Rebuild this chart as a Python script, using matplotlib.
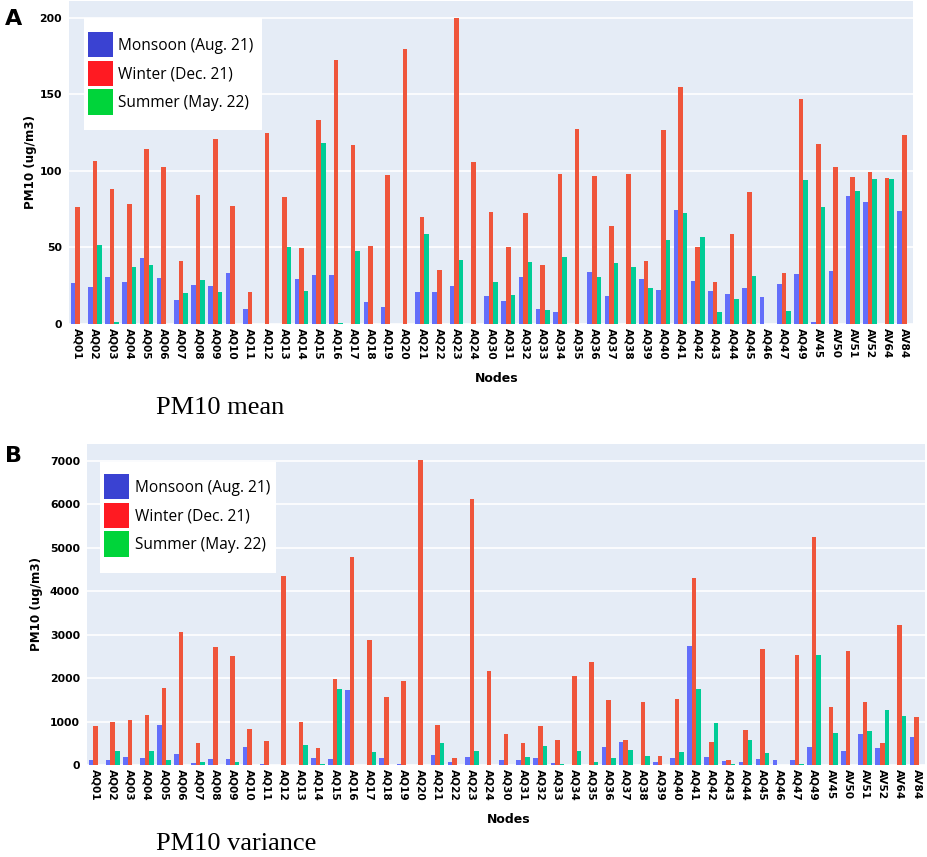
import numpy as np
import matplotlib
matplotlib.use("Agg")
import matplotlib.pyplot as plt
from matplotlib.patches import Patch, Rectangle

nan = np.nan

#node names on the x axis
nodes = ["AQ%02d" % i for i in range(1, 25)] + ["AQ%02d" % i for i in range(30, 48)] + \
        ["AQ49", "AV45", "AV50", "AV51", "AV52", "AV64", "AV84"]

#panel A - PM10 mean
mon_mean = [26.6, 24.4, 30.9, 27.7, 42.9, 29.8, 15.5, 25.5, 24.8, 33.3, 9.6, nan, nan, 29.6, 32.0, 31.8,
            nan, 14.6, 11.1, nan, 20.7, 20.7, 24.6, nan,
            18.3, 15.0, 30.9, 9.6, 8.1, nan, 34.0, 18.3, nan, 29.2, 22.2, 74.3, 28.1, 21.8, 19.4, 23.5,
            17.9, 25.9,
            32.5, 1.0, 34.9, 83.7, 79.7, nan, 73.9]
win_mean = [76.3, 106.3, 88.2, 78.2, 114.0, 102.6, 41.4, 83.9, 120.9, 76.9, 20.9, 124.6, 83.0, 49.9,
            133.3, 172.1, 117.0, 51.0, 97.0, 179.5, 69.7, 35.1, 200.0, 105.9,
            73.2, 50.5, 72.5, 38.3, 98.0, 127.2, 96.7, 63.8, 98.0, 41.4, 126.4, 154.5, 50.3, 27.7, 58.8,
            86.1, nan, 33.1,
            147.0, 117.2, 102.4, 95.9, 99.1, 95.6, 123.7]
sum_mean = [nan, 51.6, 1.0, 37.0, 38.8, nan, 20.3, 28.8, 20.7, nan, nan, nan, 50.3, 21.6, 118.0, 0.4,
            47.5, nan, nan, nan, 58.8, nan, 41.6, nan,
            27.5, 19.2, 40.5, 9.2, 43.4, nan, 30.5, 40.1, 37.3, 23.7, 55.1, 72.5, 56.9, 7.6, 16.6, 31.4,
            nan, 8.5,
            93.9, 76.3, nan, 86.5, 94.8, 94.8, nan]

#panel B - PM10 variance
mon_var = [123, 107, 184, 153, 928, 245, 46, 130, 130, 414, 15, nan, nan, 161, 130, 1733, nan, 161, 30,
           nan, 230, 61, 184, nan,
           107, 115, 153, 54, 8, nan, 414, 537, nan, 69, 153, 2738, 192, 92, 77, 130, 107, 115,
           422, nan, 314, 705, 399, nan, 637]
win_var = [890, 989, 1043, 1143, 1779, 3067, 498, 2722, 2515, 836, 552, 4340, 989, 391, 1986, 4793, 2868,
           1564, 1940, 7017, 928, 161, 6119, 2155,
           705, 506, 905, 583, 2055, 2370, 1495, 583, 1449, 207, 1526, 4310, 521, 107, 813, 2676, nan, 2531,
           5238, 1334, 2630, 1457, 506, 3221, 1112]
sum_var = [nan, 314, nan, 314, 107, nan, 69, nan, 77, nan, nan, nan, 452, 30, 1756, nan, 291, nan, nan,
           nan, 506, nan, 314, nan,
           nan, 184, 445, 30, 314, 61, 169, 353, 199, nan, 291, 1741, 974, 30, 575, 268, nan, 30,
           2538, 728, nan, 790, 1273, 1127, nan]

seasons = ["Monsoon (Aug. 21)", "Winter (Dec. 21)", "Summer (May. 22)"]
bar_colors = ["#636EFA", "#EF553B", "#00CC96"]
legend_colors = ["#3A42D2", "#FF1A22", "#00D43A"]

plt.rcParams["font.family"] = ["DejaVu Sans"]

fig = plt.figure(figsize=(9.27, 8.57), dpi=100)


def draw_panel(rect, series, ymax, ticks, letter, caption, cap_y, letter_y,
               box, leg_pos, ylabpad, nodes_x):
    ax = fig.add_axes(rect)
    ax.set_facecolor("#E5ECF6")
    x = np.arange(len(nodes))
    w = 0.8 / 3
    for k, vals in enumerate(series):
        ax.bar(x + (k - 1) * w, vals, width=w, color=bar_colors[k], zorder=3, linewidth=0)
    ax.set_xlim(-0.5, len(nodes) - 0.5)
    ax.set_ylim(0, ymax)
    ax.set_yticks(ticks)
    ax.set_yticklabels([str(t) for t in ticks], fontsize=7.8, fontweight="bold")
    ax.set_xticks(x)
    ax.set_xticklabels(nodes, rotation=-90, fontsize=7.6, fontweight="bold")
    ax.tick_params(axis="both", length=0, pad=5)
    ax.tick_params(axis="x", pad=3)
    ax.grid(axis="y", color="white", linewidth=1.2, zorder=0)
    for s in ax.spines.values():
        s.set_visible(False)
    ax.set_ylabel("PM10 (ug/m3)", fontsize=8.6, fontweight="bold", labelpad=ylabpad)
    ax.set_xlabel("Nodes", fontsize=9, fontweight="bold")
    ax.xaxis.set_label_coords(nodes_x, -0.15)

    # white legend box (pasted-in look of the original)
    ax.add_patch(Rectangle((box[0], box[1]), box[2], box[3], transform=ax.transAxes,
                           facecolor="white", edgecolor="none", zorder=4))
    handles = [Patch(facecolor=c, edgecolor="none") for c in legend_colors]
    leg = ax.legend(handles, seasons, loc="upper left", bbox_to_anchor=leg_pos,
                    prop={"family": "Open Sans", "size": 11.2}, frameon=False,
                    handlelength=1.63, handleheight=2.15, handletextpad=0.33, labelspacing=0.2,
                    borderpad=0, borderaxespad=0)
    leg.set_zorder(5)
    fig.text(0.005, letter_y, letter, fontsize=16, fontweight="bold", va="center")
    fig.text(0.168, cap_y, caption, fontsize=19, family="Liberation Serif", va="center")
    return ax


draw_panel([0.0744, 0.622, 0.9105, 0.377], [mon_mean, win_mean, sum_mean], 211,
           [0, 50, 100, 150, 200], "A", "PM10 mean", 1 - 408 / 857, 1 - 19 / 857,
           (0.0178, 0.601, 0.211, 0.346), (0.0225, 0.904), 2, 0.507)
draw_panel([0.0939, 0.1074, 0.904, 0.3746], [mon_var, win_var, sum_var], 7390,
           list(range(0, 7001, 1000)), "B", "PM10 variance", 1 - 844 / 857, 1 - 456 / 857,
           (0.0155, 0.598, 0.210, 0.346), (0.0203, 0.9065), 5, 0.5036)

fig.savefig("out.png", dpi=100)
